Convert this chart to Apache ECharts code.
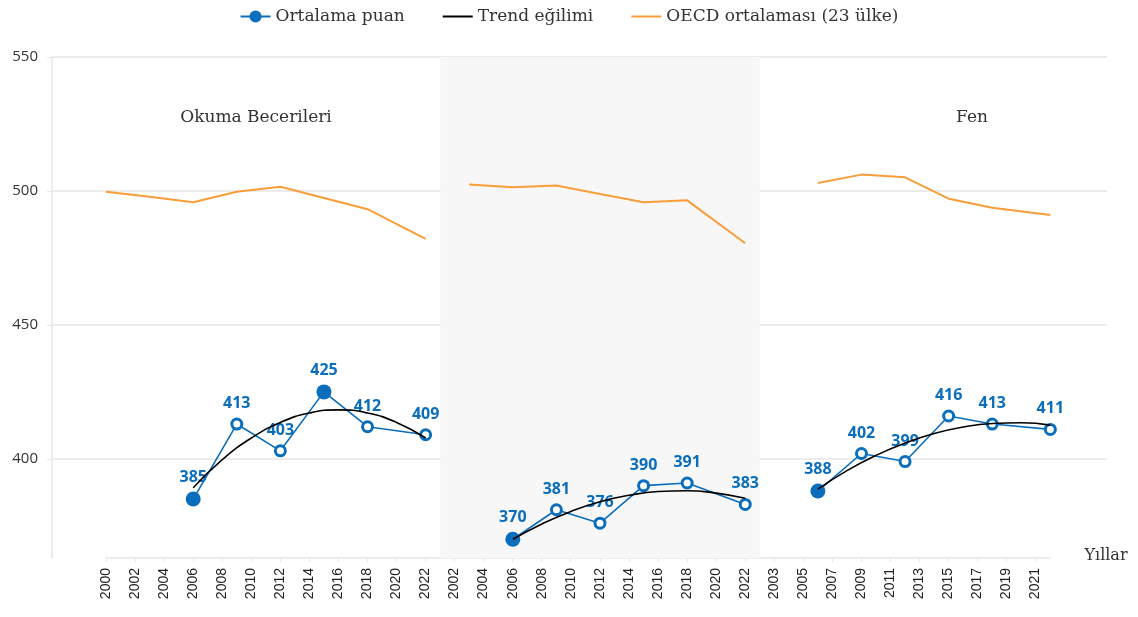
<!DOCTYPE html>
<html>
<head>
<meta charset="utf-8">
<script src="https://cdn.jsdelivr.net/npm/echarts@6/dist/echarts.min.js"></script>
<style>
  html, body { margin: 0; padding: 0; background: #ffffff; }
  #chart { width: 1138px; height: 617px; }
</style>
</head>
<body>
<div id="chart"></div>
<script>
// Tick labels along the shared year axis (three subject panels side by side)
const readingYearLabels = ['2000','2002','2004','2006','2008','2010','2012','2014','2016','2018','2020','2022'];
const mathYearLabels = ['2002','2004','2006','2008','2010','2012','2014','2016','2018','2020','2022'];
const scienceYearLabels = ['2003','2005','2007','2009','2011','2013','2015','2017','2019','2021'];
const yearLabels = readingYearLabels.concat(mathYearLabels, scienceYearLabels);

const panelTitles = ['Okuma Becerileri', 'Matematik', 'Fen'];
const yTickValues = [400, 450, 500, 550];

// PISA cycles with Türkiye results
const surveyYears = [2006, 2009, 2012, 2015, 2018, 2022];

// Mean scores
const readingScores = [385, 413, 403, 425, 412, 409];
const mathScores = [370, 381, 376, 390, 391, 383];
const scienceScores = [388, 402, 399, 416, 413, 411];

// Cycles drawn with a solid marker
const readingSolidYears = [2006, 2015];
const mathSolidYears = [2006];
const scienceSolidYears = [2006];

// Trend curve, read every two years
const trendYears = [2006, 2008, 2010, 2012, 2014, 2016, 2018, 2020, 2022];
const readingTrend = [389.2, 399.7, 407.8, 413.6, 417.1, 418.3, 417.1, 413.6, 407.8];
const mathTrend = [370.0, 375.7, 380.4, 384.0, 386.4, 387.8, 388.1, 387.2, 385.3];
const scienceTrend = [388.7, 395.6, 401.3, 405.9, 409.5, 411.9, 413.2, 413.5, 412.6];

// OECD average (23 countries)
const readingOecdYears = [2000, 2003, 2006, 2009, 2012, 2015, 2018, 2022];
const readingOecd = [499.7, 497.8, 495.8, 499.7, 501.6, 497.4, 493.2, 482.1];
const mathOecdYears = [2003, 2006, 2009, 2012, 2015, 2018, 2022];
const mathOecd = [502.4, 501.4, 502.0, 498.9, 495.8, 496.5, 480.5];
const scienceOecdYears = [2006, 2009, 2012, 2015, 2018, 2022];
const scienceOecd = [503.0, 506.1, 505.1, 497.1, 493.7, 491.0];

const BLUE = '#0a6ebd';
const ORANGE = '#f99d3a';
const GRID_LINE = '#e6e6e6';
const SERIF = '"DejaVu Serif"';

// Each panel starts at its first tick label; labels are two years apart
const panels = [
  { start: 0, firstYear: 2000, scores: readingScores, solid: readingSolidYears, trend: readingTrend, oecdYears: readingOecdYears, oecd: readingOecd },
  { start: readingYearLabels.length, firstYear: 2002, scores: mathScores, solid: mathSolidYears, trend: mathTrend, oecdYears: mathOecdYears, oecd: mathOecd },
  { start: readingYearLabels.length + mathYearLabels.length, firstYear: 2003, scores: scienceScores, solid: scienceSolidYears, trend: scienceTrend, oecdYears: scienceOecdYears, oecd: scienceOecd }
];
const yearPos = (p, year) => p.start + (year - p.firstYear) / 2;

const series = [];

// Shaded background of the middle panel
series.push({
  type: 'line',
  name: 'band',
  data: [],
  z: -1,
  silent: true,
  markArea: {
    silent: true,
    itemStyle: { color: '#f7f7f7' },
    data: [[{ xAxis: panels[1].start - 0.5 }, { xAxis: panels[2].start - 0.5 }]]
  }
});

panels.forEach(p => {
  series.push({
    type: 'line',
    name: 'OECD ortalaması (23 ülke)',
    data: p.oecdYears.map((y, i) => [yearPos(p, y), p.oecd[i]]),
    symbol: 'none',
    lineStyle: { color: ORANGE, width: 2 },
    itemStyle: { color: ORANGE },
    z: 2
  });
  series.push({
    type: 'line',
    name: 'Ortalama puan',
    data: surveyYears.map((y, i) => {
      const solid = p.solid.indexOf(y) >= 0;
      return solid
        ? { value: [yearPos(p, y), p.scores[i]] }
        : { value: [yearPos(p, y), p.scores[i]], symbolSize: 10,
            itemStyle: { color: '#ffffff', borderColor: BLUE, borderWidth: 3 } };
    }),
    symbol: 'circle',
    symbolSize: 15,
    showAllSymbol: true,
    lineStyle: { color: BLUE, width: 1.6 },
    itemStyle: { color: BLUE, borderWidth: 0 },
    label: {
      show: true,
      position: 'top',
      distance: 6,
      color: BLUE,
      fontFamily: 'Open Sans',
      fontWeight: 'bold',
      fontSize: 16,
      formatter: prm => prm.value[1]
    },
    z: 4
  });
  series.push({
    type: 'line',
    name: 'Trend eğilimi',
    data: trendYears.map((y, i) => [yearPos(p, y), p.trend[i]]),
    symbol: 'none',
    smooth: true,
    lineStyle: { color: '#000000', width: 1.6 },
    itemStyle: { color: '#000000' },
    z: 5
  });
});

const tickIdx = yearLabels.map((_, i) => i);
const lineIcon = 'path://M0,0 H30 V2 H0 Z';

const option = {
  backgroundColor: '#ffffff',
  animation: false,
  legend: {
    top: 3,
    left: 'center',
    itemWidth: 30,
    itemHeight: 15,
    itemGap: 38,
    data: [
      { name: 'Ortalama puan' },
      { name: 'Trend eğilimi', icon: lineIcon, itemStyle: { color: '#000000' } },
      { name: 'OECD ortalaması (23 ülke)', icon: lineIcon, itemStyle: { color: ORANGE } }
    ],
    textStyle: { fontFamily: 'DejaVu Serif', fontSize: 17, color: '#333333' }
  },
  grid: [
    { left: 52, right: 31, top: 57, bottom: 59, containLabel: false },
    { left: 106, right: 88, top: 557, height: 1, containLabel: false }
  ],
  xAxis: [
    { type: 'value', gridIndex: 0, min: -1.86, max: 34.45, show: false },
    {
      type: 'value', gridIndex: 1, min: 0, max: 32.5,
      axisLine: { show: true, lineStyle: { color: GRID_LINE, width: 1.5 } },
      axisTick: { show: true, length: 4, lineStyle: { color: GRID_LINE }, customValues: tickIdx },
      splitLine: { show: false },
      axisLabel: {
        customValues: tickIdx,
        rotate: 90,
        margin: 10,
        fontFamily: 'Liberation Sans',
        fontSize: 14,
        color: '#222222',
        formatter: v => yearLabels[Math.round(v)] || ''
      }
    }
  ],
  yAxis: [
    {
      type: 'value', gridIndex: 0, min: 363, max: 550,
      axisLine: { show: true, onZero: false, lineStyle: { color: GRID_LINE, width: 1.5 } },
      axisTick: { show: true, length: 5, lineStyle: { color: GRID_LINE }, customValues: yTickValues },
      splitLine: { show: true, lineStyle: { color: GRID_LINE, width: 1.5 } },
      axisLabel: {
        customValues: yTickValues,
        margin: 14,
        fontFamily: 'Open Sans',
        fontSize: 15,
        color: '#333333'
      }
    },
    { type: 'value', gridIndex: 1, show: false }
  ],
  graphic: [
    { type: 'text', x: 256, y: 118, style: { text: panelTitles[0], font: '17px ' + SERIF, fill: '#333333', align: 'center', verticalAlign: 'middle' } },
    { type: 'text', x: 606, y: 118, style: { text: panelTitles[1], font: '17px ' + SERIF, fill: '#333333', align: 'center', verticalAlign: 'middle' } },
    { type: 'text', x: 972, y: 118, style: { text: panelTitles[2], font: '17px ' + SERIF, fill: '#333333', align: 'center', verticalAlign: 'middle' } },
    { type: 'text', x: 1106, y: 556, style: { text: 'Yıllar', font: '16px ' + SERIF, fill: '#333333', align: 'center', verticalAlign: 'middle' } }
  ],
  series: series.map(s => Object.assign({ xAxisIndex: 0, yAxisIndex: 0 }, s))
};

const chart = echarts.init(document.getElementById('chart'), null, { renderer: 'canvas' });
chart.setOption(option);
</script>
</body>
</html>
